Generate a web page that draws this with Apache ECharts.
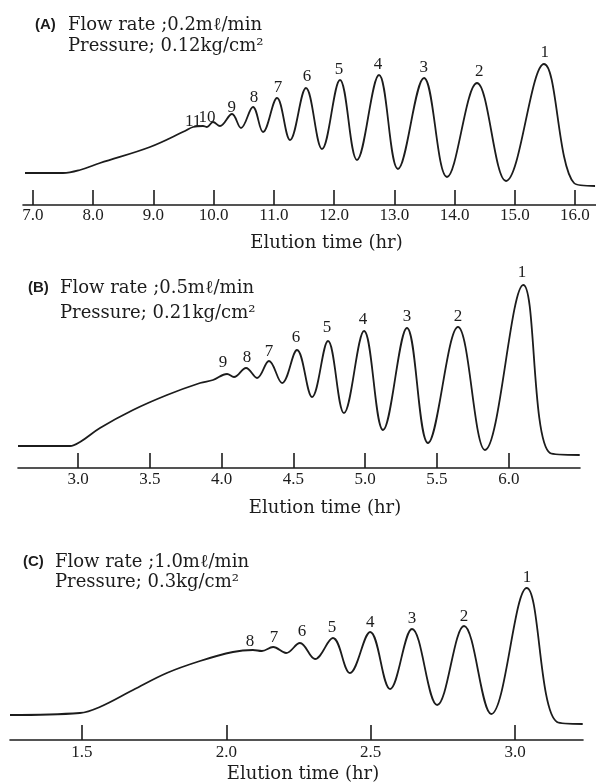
<!DOCTYPE html>
<html>
<head>
<meta charset="utf-8">
<script src="https://cdn.jsdelivr.net/npm/echarts@6/dist/echarts.min.js"></script>
<style>
  html, body { margin: 0; padding: 0; background: #fff; }
  #chart { width: 596px; height: 784px; }
</style>
</head>
<body>
<div id="chart"></div>
<script>
// (A) 0.2 ml/min — elution time (hr) and detector signal (arbitrary units), baseline + peak tops + valleys
const timeA = [6.867, 7.498, 7.780, 8.113, 8.943, 9.524, 9.657, 9.823, 9.889, 9.989, 10.105, 10.305,
  10.454, 10.653, 10.819, 11.052, 11.268, 11.533, 11.799, 12.098, 12.380, 12.746, 13.061, 13.493,
  13.875, 14.373, 14.855, 15.485, 15.984, 16.333];
const signalA = [32, 32, 35, 42, 58, 74, 78, 79, 78, 83, 79, 91,
  77, 98, 73, 107, 65, 117, 56, 125, 45, 130, 36, 127,
  28, 122, 24, 141, 22, 19];
const peakNamesA = ['11', '10', '9', '8', '7', '6', '5', '4', '3', '2', '1'];
const peakTimeA = [9.66, 9.89, 10.30, 10.67, 11.07, 11.55, 12.08, 12.73, 13.49, 14.41, 15.50];
const peakSignalA = [83, 87, 97, 107, 117, 128, 135, 140, 137, 133, 152];
const ticksA = [7.0, 8.0, 9.0, 10.0, 11.0, 12.0, 13.0, 14.0, 15.0, 16.0];

// (B) 0.5 ml/min
const timeB = [2.582, 2.944, 3.014, 3.153, 3.383, 3.620, 3.850, 3.940, 4.038, 4.086, 4.170, 4.247,
  4.330, 4.421, 4.525, 4.630, 4.741, 4.852, 4.992, 5.124, 5.291, 5.437, 5.646, 5.834, 6.101, 6.287, 6.494];
const signalB = [22, 22, 26, 40, 58, 73, 85, 88, 94, 91, 100, 90,
  107, 85, 118, 71, 127, 55, 137, 38, 140, 25, 141, 18, 183, 15, 13];
const peakNamesB = ['9', '8', '7', '6', '5', '4', '3', '2', '1'];
const peakTimeB = [4.010, 4.177, 4.330, 4.518, 4.734, 4.985, 5.291, 5.646, 6.092];
const peakSignalB = [105, 110, 116, 130, 140, 148, 151, 151, 195];
const ticksB = [3.0, 3.5, 4.0, 4.5, 5.0, 5.5, 6.0];

// (C) 1.0 ml/min
const timeC = [1.251, 1.493, 1.562, 1.677, 1.794, 1.909, 2.023, 2.092, 2.123, 2.162, 2.207, 2.255,
  2.307, 2.369, 2.428, 2.498, 2.567, 2.643, 2.730, 2.823, 2.917, 3.040, 3.145, 3.234];
const signalC = [25, 27, 33, 50, 67, 79, 88, 90, 89, 93, 87, 97,
  81, 102, 67, 108, 51, 111, 35, 114, 26, 152, 18, 16];
const peakNamesC = ['8', '7', '6', '5', '4', '3', '2', '1'];
const peakTimeC = [2.082, 2.165, 2.262, 2.366, 2.498, 2.643, 2.823, 3.041];
const peakSignalC = [98, 102, 108, 112, 117, 121, 123, 162];
const ticksC = [1.5, 2.0, 2.5, 3.0];

const serif = '"Liberation Serif", "DejaVu Serif", serif';
const wideSerif = '"DejaVu Serif", "Liberation Serif", serif';
const ink = '#1c1c1c';

const zip = (xs, ys) => xs.map((x, i) => [x, ys[i]]);

const panels = [
  { time: timeA, signal: signalA, names: peakNamesA, pt: peakTimeA, ps: peakSignalA, ticks: ticksA,
    grid: { left: 23, right: 0, top: 45, bottom: 579 }, min: 6.834, max: 16.349, ymax: 160,
    labelMargin: 2, nameGap: 29, nameShift: 34 },
  { time: timeB, signal: signalB, names: peakNamesB, pt: peakTimeB, ps: peakSignalB, ticks: ticksB,
    grid: { left: 18, right: 16, top: 268, bottom: 316 }, min: 2.582, max: 6.496, ymax: 200,
    labelMargin: 3, nameGap: 31, nameShift: 52 },
  { time: timeC, signal: signalC, names: peakNamesC, pt: peakTimeC, ps: peakSignalC, ticks: ticksC,
    grid: { left: 10, right: 13, top: 560, bottom: 44 }, min: 1.251, max: 3.235, ymax: 180,
    labelMargin: 4, nameGap: 25, nameShift: 13 }
];

// tag, flow line, pressure line, tag x, text x, flow line centre y, pressure line centre y
const titles = [
  ['(A)', 'Flow rate ;0.2mℓ/min', 'Pressure; 0.12kg/cm²', 35, 68, 25, 46],
  ['(B)', 'Flow rate ;0.5mℓ/min', 'Pressure; 0.21kg/cm²', 28, 60, 288, 313],
  ['(C)', 'Flow rate ;1.0mℓ/min', 'Pressure; 0.3kg/cm²', 23, 55, 562, 582]
];

const chart = echarts.init(document.getElementById('chart'), null, { renderer: 'canvas' });

const option = {
  animation: false,
  backgroundColor: '#fff',
  title: titles.flatMap(([tag, flow, pres, tagX, textX, y1, y2]) => [
    {
      text: tag, left: tagX, top: y1 - 8, padding: 0,
      textStyle: { fontFamily: '"Liberation Sans", Arial, sans-serif', fontSize: 15, fontWeight: 'bold', color: ink }
    },
    {
      text: flow, left: textX, top: y1 - 9, padding: 0,
      textStyle: { fontFamily: wideSerif, fontSize: 18, fontWeight: 'normal', color: ink }
    },
    {
      text: pres, left: textX, top: y2 - 9, padding: 0,
      textStyle: { fontFamily: wideSerif, fontSize: 18, fontWeight: 'normal', color: ink }
    }
  ]),
  grid: panels.map(p => Object.assign({ outerBoundsMode: 'none' }, p.grid)),
  xAxis: panels.map((p, i) => ({
    type: 'value',
    gridIndex: i,
    min: p.min,
    max: p.max,
    name: 'Elution time (hr)',
    nameLocation: 'middle',
    nameGap: p.nameGap,
    nameTextStyle: { fontFamily: wideSerif, fontSize: 18, color: ink, padding: [0, 0, 0, p.nameShift] },
    axisLine: { show: true, lineStyle: { color: ink, width: 1.6 } },
    axisTick: { show: true, inside: true, length: 15, customValues: p.ticks, lineStyle: { color: ink, width: 1.6 } },
    axisLabel: {
      customValues: p.ticks,
      margin: p.labelMargin,
      fontFamily: serif, fontSize: 17, color: ink,
      formatter: v => v.toFixed(1)
    },
    splitLine: { show: false }
  })),
  yAxis: panels.map((p, i) => ({
    type: 'value', gridIndex: i, min: 0, max: p.ymax, show: false
  })),
  series: panels.flatMap((p, i) => [
    {
      type: 'line',
      xAxisIndex: i, yAxisIndex: i,
      data: zip(p.time, p.signal),
      smooth: 0.38,
      symbol: 'none',
      lineStyle: { color: ink, width: 1.8 },
      silent: true
    },
    {
      type: 'scatter',
      xAxisIndex: i, yAxisIndex: i,
      data: p.pt.map((t, k) => ({ value: [t, p.ps[k]], name: p.names[k] })),
      symbolSize: 1,
      itemStyle: { color: 'rgba(0,0,0,0)' },
      label: {
        show: true, position: 'inside',
        formatter: d => d.name,
        fontFamily: serif, fontSize: 17, color: ink,
        textBorderWidth: 0, opacity: 1
      },
      silent: true
    }
  ])
};

chart.setOption(option);
</script>
</body>
</html>
